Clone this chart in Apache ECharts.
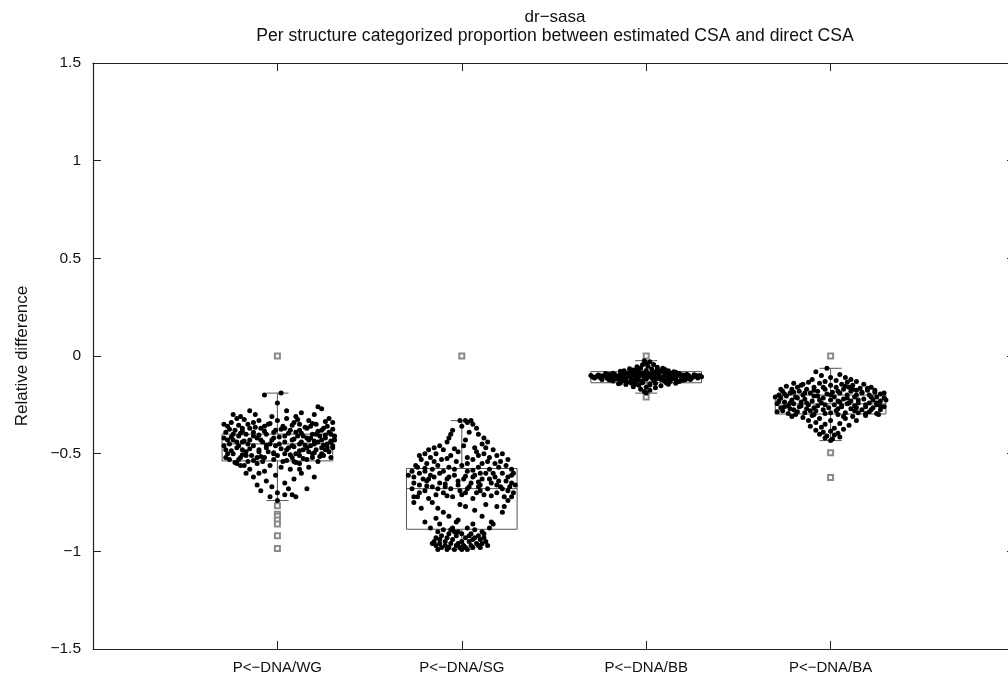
<!DOCTYPE html>
<html>
<head>
<meta charset="utf-8">
<title>dr−sasa</title>
<script src="https://cdn.jsdelivr.net/npm/echarts@6/dist/echarts.min.js"></script>
<style>
  html, body { margin: 0; padding: 0; background: #ffffff; }
  #chart { width: 1008px; height: 676px; }
</style>
</head>
<body>
<div id="chart"></div>
<script>
// ---- data ---------------------------------------------------------------
const categories = ['P<−DNA/WG', 'P<−DNA/SG', 'P<−DNA/BB', 'P<−DNA/BA'];
const titleText = 'dr−sasa';
const subtitleText = 'Per structure categorized proportion between estimated CSA and direct CSA';
const yAxisName = 'Relative difference';

// box statistics per category: [lower whisker, Q1, median, Q3, upper whisker]
const boxWG = [-0.74, -0.537, -0.45, -0.40, -0.19];
const boxSG = [-0.99, -0.887, -0.679, -0.576, -0.331];
const boxBB = [-0.19, -0.137, -0.106, -0.08, -0.024];
const boxBA = [-0.433, -0.297, -0.245, -0.20, -0.063];

// outliers beyond the whiskers
const outliersWG = [0, -0.766, -0.81, -0.82, -0.84, -0.86, -0.92, -0.985];
const outliersSG = [0];
const outliersBB = [0, -0.21];
const outliersBA = [0, -0.495, -0.622];

// per-structure values: [horizontal jitter within the category, relative difference]
const pointsWG = [
  [0.02,-0.19],[-0.07,-0.2],[0.0,-0.24],[0.22,-0.26],[0.24,-0.27],[-0.15,-0.28],[0.05,-0.28],[0.13,-0.29],[-0.12,-0.3],[0.2,-0.3],[-0.2,-0.31],[0.28,-0.32],
  [-0.22,-0.32],[-0.1,-0.33],[0.0,-0.33],[0.09,-0.34],[0.17,-0.33],[-0.25,-0.34],[-0.16,-0.35],[-0.05,-0.35],[0.03,-0.36],[0.12,-0.35],[0.21,-0.35],[0.27,-0.36],
  [-0.27,-0.36],[-0.19,-0.37],[-0.09,-0.37],[0.07,-0.38],[0.16,-0.37],[0.24,-0.38],[-0.23,-0.38],[-0.13,-0.39],[-0.02,-0.39],[0.1,-0.39],[0.19,-0.4],[0.29,-0.4],
  [-0.28,-0.39],[-0.17,-0.4],[-0.06,-0.4],[0.04,-0.41],[0.14,-0.41],[0.23,-0.41],[-0.21,-0.41],[-0.11,-0.42],[0.26,-0.42],[0.31,-0.43],
  [-0.29,-0.42],[-0.24,-0.43],[-0.15,-0.43],[-0.03,-0.43],[0.08,-0.43],[0.17,-0.43],[0.22,-0.44],[-0.19,-0.44],[-0.08,-0.44],[0.01,-0.45],[0.12,-0.45],[0.27,-0.45],
  [0.3,-0.46],[-0.26,-0.45],[-0.13,-0.46],[-0.01,-0.46],[0.06,-0.47],[0.18,-0.46],[0.24,-0.47],[-0.22,-0.47],[-0.1,-0.48],[0.14,-0.48],[0.21,-0.48],[0.28,-0.49],
  [-0.28,-0.48],[-0.17,-0.49],[-0.05,-0.49],[0.04,-0.5],[0.1,-0.5],[0.19,-0.5],[-0.24,-0.5],[-0.14,-0.51],[0.0,-0.51],[0.25,-0.51],[-0.2,-0.52],[-0.07,-0.52],
  [0.08,-0.52],[0.16,-0.53],[-0.26,-0.53],[-0.16,-0.54],[0.03,-0.54],[0.22,-0.54],[-0.22,-0.55],[-0.11,-0.55],[0.12,-0.55],
  [-0.2,-0.56],[-0.04,-0.56],[0.17,-0.57],[-0.15,-0.58],[0.07,-0.58],[-0.1,-0.6],[0.13,-0.6],[-0.01,-0.61],[0.2,-0.62],[-0.13,-0.62],[-0.06,-0.64],[0.09,-0.63],
  [0.04,-0.65],[-0.11,-0.66],[-0.03,-0.67],[0.06,-0.68],[0.16,-0.68],[-0.09,-0.69],[0.0,-0.7],[0.04,-0.71],[0.08,-0.71],[-0.04,-0.72],[0.1,-0.72],[0.0,-0.74],
  [-0.18,-0.325],[0.11,-0.325],[0.26,-0.335],[-0.04,-0.345],[0.19,-0.345],[-0.21,-0.355],[0.08,-0.355],[-0.12,-0.365],[0.15,-0.365],[0.3,-0.375],[-0.26,-0.375],
  [0.02,-0.375],[0.22,-0.385],[-0.07,-0.385],[-0.2,-0.395],[0.13,-0.395],[0.26,-0.405],[-0.1,-0.405],[0.01,-0.415],[0.18,-0.42],[-0.25,-0.415],[0.09,-0.425],
  [0.29,-0.435],[-0.18,-0.435],[0.2,-0.435],[-0.06,-0.455],[0.15,-0.455],[0.25,-0.455],[-0.21,-0.46],[0.09,-0.465],[0.3,-0.47],[-0.15,-0.475],[0.02,-0.475],
  [0.26,-0.48],[-0.25,-0.485],[0.12,-0.485],[-0.02,-0.495],[0.2,-0.495],[-0.19,-0.505],[0.07,-0.505],[0.23,-0.515],[-0.09,-0.515],[-0.28,-0.52],[0.14,-0.525],
  [-0.13,-0.535],[0.05,-0.535],[-0.23,-0.545],[0.1,-0.545],
  [-0.24,-0.3],[0.1,-0.31],[-0.03,-0.31],[0.3,-0.34],[-0.13,-0.34],[0.05,-0.32],[-0.29,-0.35],[0.18,-0.36],[-0.07,-0.36],[0.25,-0.37],[-0.15,-0.37],[0.04,-0.37],
  [0.12,-0.38],[-0.19,-0.385],[-0.01,-0.38],[0.28,-0.39],[0.06,-0.395],[-0.24,-0.4],[0.21,-0.4],[-0.13,-0.41],[0.11,-0.41],[0.31,-0.41],[-0.02,-0.42],[0.16,-0.42],
  [-0.27,-0.43],[0.24,-0.43],[-0.09,-0.43],[0.04,-0.44],[0.13,-0.44],[-0.22,-0.44],[0.29,-0.44],[-0.16,-0.45],[-0.04,-0.45],[0.2,-0.45],[0.08,-0.46],[-0.29,-0.46],
  [0.16,-0.47],[-0.06,-0.47],[0.27,-0.47],[-0.19,-0.48],[0.05,-0.48],[-0.1,-0.49],[0.17,-0.49],[-0.27,-0.5],[0.24,-0.5],[-0.02,-0.5],[0.12,-0.51],[-0.17,-0.51],
  [0.29,-0.52],[-0.11,-0.52],[0.19,-0.52],[-0.21,-0.53],[-0.02,-0.53],[0.09,-0.54],[-0.08,-0.54],[-0.18,-0.56],[0.02,-0.57],[0.12,-0.58],[-0.07,-0.59],[-0.17,-0.6]
];

const pointsSG = [
  [-0.01,-0.33],[0.02,-0.33],[0.05,-0.33],[0.03,-0.34],[0.06,-0.35],[0.0,-0.36],[0.08,-0.37],[-0.05,-0.38],[0.04,-0.39],[-0.06,-0.4],[0.09,-0.4],[0.12,-0.42],
  [-0.07,-0.42],[0.02,-0.43],[-0.08,-0.44],[0.14,-0.44],[0.11,-0.45],[-0.12,-0.46],[0.01,-0.46],[0.07,-0.47],
  [-0.18,-0.48],[-0.1,-0.48],[0.17,-0.48],[-0.02,-0.49],[0.08,-0.49],[-0.2,-0.5],[-0.14,-0.5],[0.12,-0.5],[0.19,-0.51],[-0.06,-0.51],[0.03,-0.52],[-0.17,-0.52],
  [0.15,-0.52],[-0.22,-0.53],[-0.11,-0.53],[0.06,-0.53],[0.21,-0.54],[-0.03,-0.54],[-0.19,-0.55],[0.11,-0.55],[0.18,-0.55],[-0.13,-0.56],[0.0,-0.56],[0.24,-0.56],
  [-0.24,-0.57],[-0.07,-0.57],[0.09,-0.57],[0.15,-0.58],[-0.16,-0.58],
  [-0.27,-0.59],[-0.2,-0.59],[-0.1,-0.59],[0.03,-0.59],[0.13,-0.6],[0.22,-0.6],[-0.23,-0.6],[-0.04,-0.61],[0.07,-0.61],[0.27,-0.61],[-0.15,-0.62],[0.18,-0.62],
  [-0.26,-0.62],[-0.08,-0.63],[0.01,-0.63],[0.11,-0.63],[0.24,-0.64],[-0.19,-0.64],[-0.12,-0.65],[0.05,-0.65],[0.16,-0.65],[0.29,-0.66],[-0.23,-0.66],[-0.02,-0.66],
  [0.09,-0.67],[0.21,-0.67],[-0.16,-0.67],[-0.27,-0.68],[-0.06,-0.68],[0.03,-0.68],[0.14,-0.68],[0.25,-0.69],[-0.2,-0.69],[-0.1,-0.7],[0.08,-0.7],[0.19,-0.7],
  [0.28,-0.7],[-0.14,-0.71],[0.0,-0.71],[0.12,-0.71],[0.23,-0.72],[-0.24,-0.72],[-0.05,-0.72],[0.17,-0.6],[-0.17,-0.61],[0.1,-0.66],[-0.09,-0.67],[0.26,-0.67],
  [-0.01,-0.69],[0.2,-0.64],[0.06,-0.62],[-0.21,-0.63],
  [-0.26,-0.72],[-0.26,-0.75],[-0.16,-0.75],[-0.13,-0.78],[-0.1,-0.8],[-0.01,-0.76],[0.02,-0.77],[0.07,-0.79],[0.13,-0.76],[0.19,-0.77],[0.22,-0.8],[-0.14,-0.83],
  [-0.2,-0.85],[-0.03,-0.85],[-0.12,-0.86],[-0.02,-0.84],[0.16,-0.85],[0.17,-0.86],[0.11,-0.82],[0.25,-0.74],
  [-0.05,-0.88],[0.03,-0.88],[-0.1,-0.89],[0.07,-0.89],[-0.02,-0.9],[0.11,-0.9],[-0.13,-0.9],[0.0,-0.91],[-0.07,-0.91],[0.05,-0.91],[0.09,-0.92],[-0.11,-0.92],
  [-0.03,-0.92],[0.02,-0.93],[-0.14,-0.93],[0.12,-0.93],[-0.08,-0.93],[0.06,-0.94],[-0.05,-0.94],[-0.12,-0.94],[0.1,-0.94],[0.0,-0.95],[-0.09,-0.95],[0.04,-0.95],
  [0.13,-0.95],[-0.15,-0.95],[-0.02,-0.96],[0.08,-0.96],[-0.06,-0.96],[-0.12,-0.96],[0.11,-0.96],[0.01,-0.97],[-0.09,-0.97],[0.05,-0.97],[-0.03,-0.97],[-0.14,-0.97],
  [0.09,-0.97],[-0.07,-0.98],[0.02,-0.98],[-0.11,-0.98],[0.06,-0.98],[-0.01,-0.98],[-0.04,-0.99],[0.03,-0.99],[-0.08,-0.99],[0.0,-0.99],[0.12,-0.91],[-0.16,-0.96],
  [0.07,-0.93],[-0.04,-0.9],[0.1,-0.98],[-0.13,-0.99],[0.04,-0.92],[-0.06,-0.89],[0.14,-0.97],
  [-0.15,-0.47],[0.13,-0.47],[-0.04,-0.475],[0.22,-0.5],[-0.23,-0.51],[0.09,-0.51],[-0.08,-0.525],[0.25,-0.53],[-0.15,-0.54],[0.14,-0.54],[0.03,-0.55],[-0.25,-0.56],
  [0.2,-0.57],[-0.04,-0.58],[0.27,-0.58],[-0.2,-0.575],[0.06,-0.585],[-0.12,-0.6],[0.1,-0.6],[0.28,-0.6],[-0.29,-0.61],[0.02,-0.615],[-0.07,-0.62],[0.25,-0.62],
  [-0.18,-0.63],[0.15,-0.63],[-0.02,-0.64],[0.27,-0.65],[-0.26,-0.65],[0.09,-0.645],[-0.09,-0.655],[0.19,-0.66],[-0.19,-0.665],[0.04,-0.67],[-0.13,-0.68],[0.22,-0.68],
  [0.1,-0.69],[-0.23,-0.7],[0.02,-0.7],[0.16,-0.715],[-0.08,-0.715],[0.27,-0.72],[-0.18,-0.73],[0.06,-0.73],[-0.22,-0.78],[0.23,-0.77],[-0.07,-0.82],[0.06,-0.86],
  [-0.17,-0.88],[0.15,-0.88]
];

const pointsBB = [
  [-0.3,-0.1],[-0.27,-0.105],[-0.25,-0.11],[-0.23,-0.1],[-0.21,-0.115],[-0.19,-0.105],[-0.17,-0.095],[-0.15,-0.11],[-0.13,-0.1],[-0.11,-0.115],[-0.09,-0.105],
  [-0.07,-0.095],[-0.05,-0.11],[-0.03,-0.1],[-0.01,-0.115],[0.01,-0.105],[0.03,-0.095],[0.05,-0.11],[0.07,-0.1],[0.09,-0.115],[0.11,-0.105],[0.13,-0.095],
  [0.15,-0.11],[0.17,-0.1],[0.19,-0.115],[0.21,-0.105],[0.23,-0.1],[0.25,-0.11],[0.27,-0.105],[0.29,-0.1],
  [-0.22,-0.09],[-0.18,-0.088],[-0.14,-0.092],[-0.1,-0.087],[-0.06,-0.09],[-0.02,-0.086],[0.02,-0.091],[0.06,-0.087],[0.1,-0.092],[0.14,-0.088],[0.18,-0.09],
  [0.22,-0.093],[-0.2,-0.095],[-0.12,-0.083],[0.04,-0.082],[0.16,-0.083],[-0.04,-0.08],[0.08,-0.079],
  [-0.24,-0.12],[-0.2,-0.123],[-0.16,-0.118],[-0.12,-0.125],[-0.08,-0.12],[-0.04,-0.124],[0.0,-0.119],[0.04,-0.126],[0.08,-0.12],[0.12,-0.123],[0.16,-0.118],
  [0.2,-0.124],[0.24,-0.12],[-0.18,-0.128],[-0.06,-0.13],[0.1,-0.129],[0.18,-0.13],[-0.1,-0.133],
  [-0.12,-0.075],[-0.07,-0.072],[0.0,-0.074],[0.06,-0.07],[0.12,-0.076],[-0.09,-0.065],[-0.03,-0.062],[0.03,-0.066],[0.09,-0.063],[-0.05,-0.055],[0.01,-0.052],
  [0.06,-0.057],[-0.02,-0.045],[0.04,-0.044],[0.0,-0.038],[0.02,-0.03],[-0.01,-0.024],[0.1,-0.068],[-0.14,-0.078],[0.15,-0.08],
  [-0.14,-0.138],[-0.08,-0.14],[-0.02,-0.137],[0.05,-0.141],[0.11,-0.138],[0.16,-0.14],[-0.11,-0.146],[-0.04,-0.15],[0.02,-0.148],[0.08,-0.152],[-0.07,-0.158],
  [0.0,-0.16],[0.05,-0.163],[-0.03,-0.17],[0.02,-0.175],[-0.01,-0.182],[0.0,-0.19],[0.12,-0.145],[-0.15,-0.142],
  [-0.28,-0.112],[-0.26,-0.097],[-0.2,-0.108],[-0.16,-0.102],[-0.12,-0.108],[-0.08,-0.098],[-0.04,-0.104],[0.0,-0.098],[0.04,-0.1],[0.08,-0.108],[0.12,-0.112],
  [0.16,-0.104],[0.2,-0.097],[0.24,-0.108],[0.28,-0.112],[0.26,-0.096],[-0.24,-0.114],[0.0,-0.11],[0.06,-0.115],[-0.06,-0.117],[0.14,-0.117],[-0.14,-0.117],
  [0.22,-0.116],[-0.22,-0.103],
  [-0.29,-0.107],[-0.25,-0.101],[-0.21,-0.097],[-0.17,-0.113],[-0.13,-0.106],[-0.09,-0.096],[-0.05,-0.101],[-0.01,-0.108],[0.03,-0.113],[0.07,-0.106],[0.11,-0.099],
  [0.15,-0.101],[0.19,-0.108],[0.23,-0.113],[0.27,-0.1],[0.3,-0.106],[-0.19,-0.12],[0.05,-0.12],[0.21,-0.121],[-0.11,-0.09],[0.11,-0.086],[-0.02,-0.128],
  [0.13,-0.131],[-0.14,-0.13],[0.0,-0.083],[-0.08,-0.082],[0.07,-0.075],[-0.05,-0.068],[0.02,-0.142],[-0.06,-0.145]
];

const pointsBA = [
  [-0.02,-0.063],[-0.08,-0.08],[-0.05,-0.1],[0.0,-0.11],[0.05,-0.095],[0.08,-0.11],[0.11,-0.12],[-0.1,-0.12],[-0.03,-0.13],[0.03,-0.125],[0.14,-0.13],[-0.12,-0.135],
  [0.09,-0.135],
  [-0.2,-0.14],[-0.15,-0.145],[-0.06,-0.14],[0.0,-0.15],[0.06,-0.145],[0.12,-0.15],[0.18,-0.145],[-0.24,-0.155],[-0.18,-0.16],[-0.09,-0.16],[0.03,-0.16],
  [0.1,-0.16],[0.16,-0.165],[0.22,-0.16],[-0.21,-0.17],[-0.13,-0.17],[-0.03,-0.17],[0.07,-0.17],[0.14,-0.175],[0.2,-0.175],[-0.26,-0.18],[-0.17,-0.18],
  [-0.07,-0.18],[0.01,-0.185],[0.11,-0.18],[0.24,-0.185],[-0.22,-0.19],[-0.11,-0.19],[0.05,-0.19],[0.17,-0.19],[0.27,-0.195],[-0.15,-0.2],[-0.02,-0.195],
  [0.09,-0.2],[0.21,-0.2],
  [-0.28,-0.2],[-0.24,-0.205],[-0.19,-0.21],[-0.09,-0.205],[0.02,-0.21],[0.13,-0.21],[0.25,-0.21],[0.29,-0.215],[-0.27,-0.215],[-0.14,-0.22],[-0.04,-0.215],
  [0.07,-0.22],[0.18,-0.22],[0.23,-0.225],[-0.21,-0.225],[-0.1,-0.23],[0.0,-0.225],[0.11,-0.23],[0.27,-0.23],[-0.25,-0.235],[-0.16,-0.235],[-0.05,-0.24],
  [0.05,-0.235],[0.15,-0.24],[0.21,-0.24],[-0.29,-0.245],[-0.2,-0.245],[-0.12,-0.25],[0.02,-0.25],[0.09,-0.245],[0.25,-0.25],[-0.23,-0.255],[-0.07,-0.255],
  [0.13,-0.255],[0.19,-0.26],[0.29,-0.26],[-0.27,-0.265],[-0.17,-0.26],[-0.01,-0.265],[0.06,-0.26],[0.23,-0.265],[-0.22,-0.27],[-0.13,-0.27],[-0.04,-0.275],
  [0.11,-0.27],[0.17,-0.275],[0.27,-0.275],[-0.26,-0.28],[-0.18,-0.285],[-0.08,-0.28],[0.03,-0.28],[0.21,-0.285],[-0.14,-0.29],[0.08,-0.29],[0.15,-0.29],
  [0.25,-0.295],[-0.23,-0.295],[-0.03,-0.295],
  [-0.19,-0.3],[-0.1,-0.305],[0.04,-0.3],[0.12,-0.31],[0.19,-0.305],[-0.15,-0.315],[-0.06,-0.32],[0.08,-0.32],[-0.12,-0.33],[0.0,-0.33],[0.14,-0.33],
  [-0.08,-0.34],[0.05,-0.345],[-0.03,-0.35],[0.1,-0.355],[-0.11,-0.36],[-0.05,-0.365],[0.02,-0.37],[0.07,-0.375],[-0.08,-0.38],[0.0,-0.385],[-0.04,-0.39],
  [0.04,-0.395],[-0.06,-0.4],[0.02,-0.405],[-0.02,-0.41],[0.05,-0.415],[-0.03,-0.42],[0.01,-0.425],[0.0,-0.433],
  [-0.16,-0.15],[0.08,-0.155],[-0.04,-0.16],[0.2,-0.165],[-0.27,-0.17],[0.12,-0.17],[-0.09,-0.175],[0.24,-0.175],[0.04,-0.18],[-0.2,-0.185],[0.17,-0.185],
  [-0.14,-0.19],[0.29,-0.19],[0.0,-0.2],[-0.25,-0.195],[0.14,-0.2],[-0.07,-0.205],[0.22,-0.21],[-0.3,-0.21],[0.09,-0.215],[-0.18,-0.215],[0.3,-0.225],
  [-0.06,-0.225],[0.15,-0.225],[-0.28,-0.23],[0.04,-0.23],[-0.13,-0.24],[0.25,-0.24],[-0.22,-0.24],[0.1,-0.24],[-0.03,-0.25],[0.19,-0.25],[-0.16,-0.255],
  [0.06,-0.255],[0.27,-0.255],[-0.25,-0.26],[0.14,-0.265],[-0.09,-0.265],[-0.2,-0.275],[0.04,-0.27],[0.22,-0.275],[-0.11,-0.28],[0.13,-0.28],[-0.29,-0.285],
  [0.0,-0.29],[0.19,-0.295],[-0.09,-0.3],[0.26,-0.3],[-0.21,-0.31],[0.07,-0.31]
];

// ---- assembly --------------------------------------------------------------
const boxes = [boxWG, boxSG, boxBB, boxBA];
const pointSets = [pointsWG, pointsSG, pointsBB, pointsBA];
const outlierSets = [outliersWG, outliersSG, outliersBB, outliersBA];

const BOX_HALF = 0.3;   // half box width in category units
const CAP_HALF = 0.06;  // half whisker-cap width in category units
const FONT = '"Liberation Sans", Arial, Helvetica, sans-serif';
const INK = '#111111';
const LINE = '#222222';

const boxData = boxes.map((b, i) => [i + 1].concat(b));
const pointData = [];
pointSets.forEach((set, i) => set.forEach(p => pointData.push([i + 1 + p[0], p[1]])));
const outlierData = [];
outlierSets.forEach((set, i) => set.forEach(v => outlierData.push([i + 1, v])));

function minusSign(v) {
  return (v < 0 ? '\u2212' : '') + String(Math.abs(v));
}

function renderBox(params, api) {
  const x = api.value(0);
  const pLo = api.coord([x, api.value(1)]);
  const pQ1 = api.coord([x, api.value(2)]);
  const pMed = api.coord([x, api.value(3)]);
  const pQ3 = api.coord([x, api.value(4)]);
  const pHi = api.coord([x, api.value(5)]);
  const half = api.size([BOX_HALF, 0])[0];
  const cap = api.size([CAP_HALF, 0])[0];
  const stroke = { stroke: '#555555', lineWidth: 1, fill: null };
  const cx = pMed[0];
  return {
    type: 'group',
    children: [
      { type: 'rect', shape: { x: cx - half, y: pQ3[1], width: 2 * half, height: pQ1[1] - pQ3[1] }, style: stroke },
      { type: 'line', shape: { x1: cx - half, y1: pMed[1], x2: cx + half, y2: pMed[1] }, style: stroke },
      { type: 'line', shape: { x1: cx, y1: pQ3[1], x2: cx, y2: pHi[1] }, style: stroke },
      { type: 'line', shape: { x1: cx, y1: pQ1[1], x2: cx, y2: pLo[1] }, style: stroke },
      { type: 'line', shape: { x1: cx - cap, y1: pHi[1], x2: cx + cap, y2: pHi[1] }, style: stroke },
      { type: 'line', shape: { x1: cx - cap, y1: pLo[1], x2: cx + cap, y2: pLo[1] }, style: stroke }
    ]
  };
}

const axisLine = { show: true, onZero: false, lineStyle: { color: LINE, width: 1.2 } };
const axisTick = { show: true, inside: true, length: 8, lineStyle: { color: LINE, width: 1 } };

const chart = echarts.init(document.getElementById('chart'), null, { renderer: 'canvas' });

chart.setOption({
  backgroundColor: '#ffffff',
  animation: false,
  textStyle: { fontFamily: FONT },
  graphic: [
    { type: 'text', x: 555, y: 9, style: { text: titleText, textAlign: 'center', textVerticalAlign: 'top', font: '17px ' + FONT, fill: INK } },
    { type: 'text', x: 555, y: 27, style: { text: subtitleText, textAlign: 'center', textVerticalAlign: 'top', font: '17.6px ' + FONT, fill: INK } }
  ],
  // the plot frame runs a little past the right edge of the page
  grid: { left: 93, top: 63, width: 922, height: 586, outerBoundsMode: 'none', containLabel: false },
  xAxis: [
    {
      type: 'value', min: 0, max: 5, interval: 1, position: 'bottom',
      axisLine, axisTick, splitLine: { show: false },
      axisLabel: {
        margin: 11, color: INK, fontSize: 15, fontFamily: FONT,
        formatter: v => categories[v - 1] || ''
      }
    },
    {
      type: 'value', min: 0, max: 5, interval: 1, position: 'top',
      axisLine, axisTick, splitLine: { show: false }, axisLabel: { show: false }
    }
  ],
  yAxis: [
    {
      type: 'value', min: -1.5, max: 1.5, interval: 0.5, position: 'left',
      axisLine, axisTick, splitLine: { show: false },
      axisLabel: { margin: 12, color: INK, fontSize: 15.5, fontFamily: FONT, formatter: minusSign },
      name: yAxisName, nameLocation: 'middle', nameGap: 62,
      nameTextStyle: { color: INK, fontSize: 17, fontFamily: FONT }
    },
    {
      type: 'value', min: -1.5, max: 1.5, interval: 0.5, position: 'right',
      axisLine, axisTick, splitLine: { show: false }, axisLabel: { show: false }
    }
  ],
  series: [
    {
      name: 'box', type: 'custom', xAxisIndex: 0, yAxisIndex: 0, z: 1,
      renderItem: renderBox, encode: { x: 0, y: [1, 2, 3, 4, 5] }, data: boxData
    },
    {
      name: 'outliers', type: 'scatter', xAxisIndex: 0, yAxisIndex: 0, z: 2,
      symbol: 'emptyRect', symbolSize: 5,
      itemStyle: { color: '#8a8a8a', borderColor: '#8a8a8a', borderWidth: 1, opacity: 1 },
      data: outlierData
    },
    {
      name: 'structures', type: 'scatter', xAxisIndex: 0, yAxisIndex: 0, z: 3,
      symbol: 'circle', symbolSize: 5,
      itemStyle: { color: '#000000', opacity: 1 },
      data: pointData
    }
  ]
});
</script>
</body>
</html>
